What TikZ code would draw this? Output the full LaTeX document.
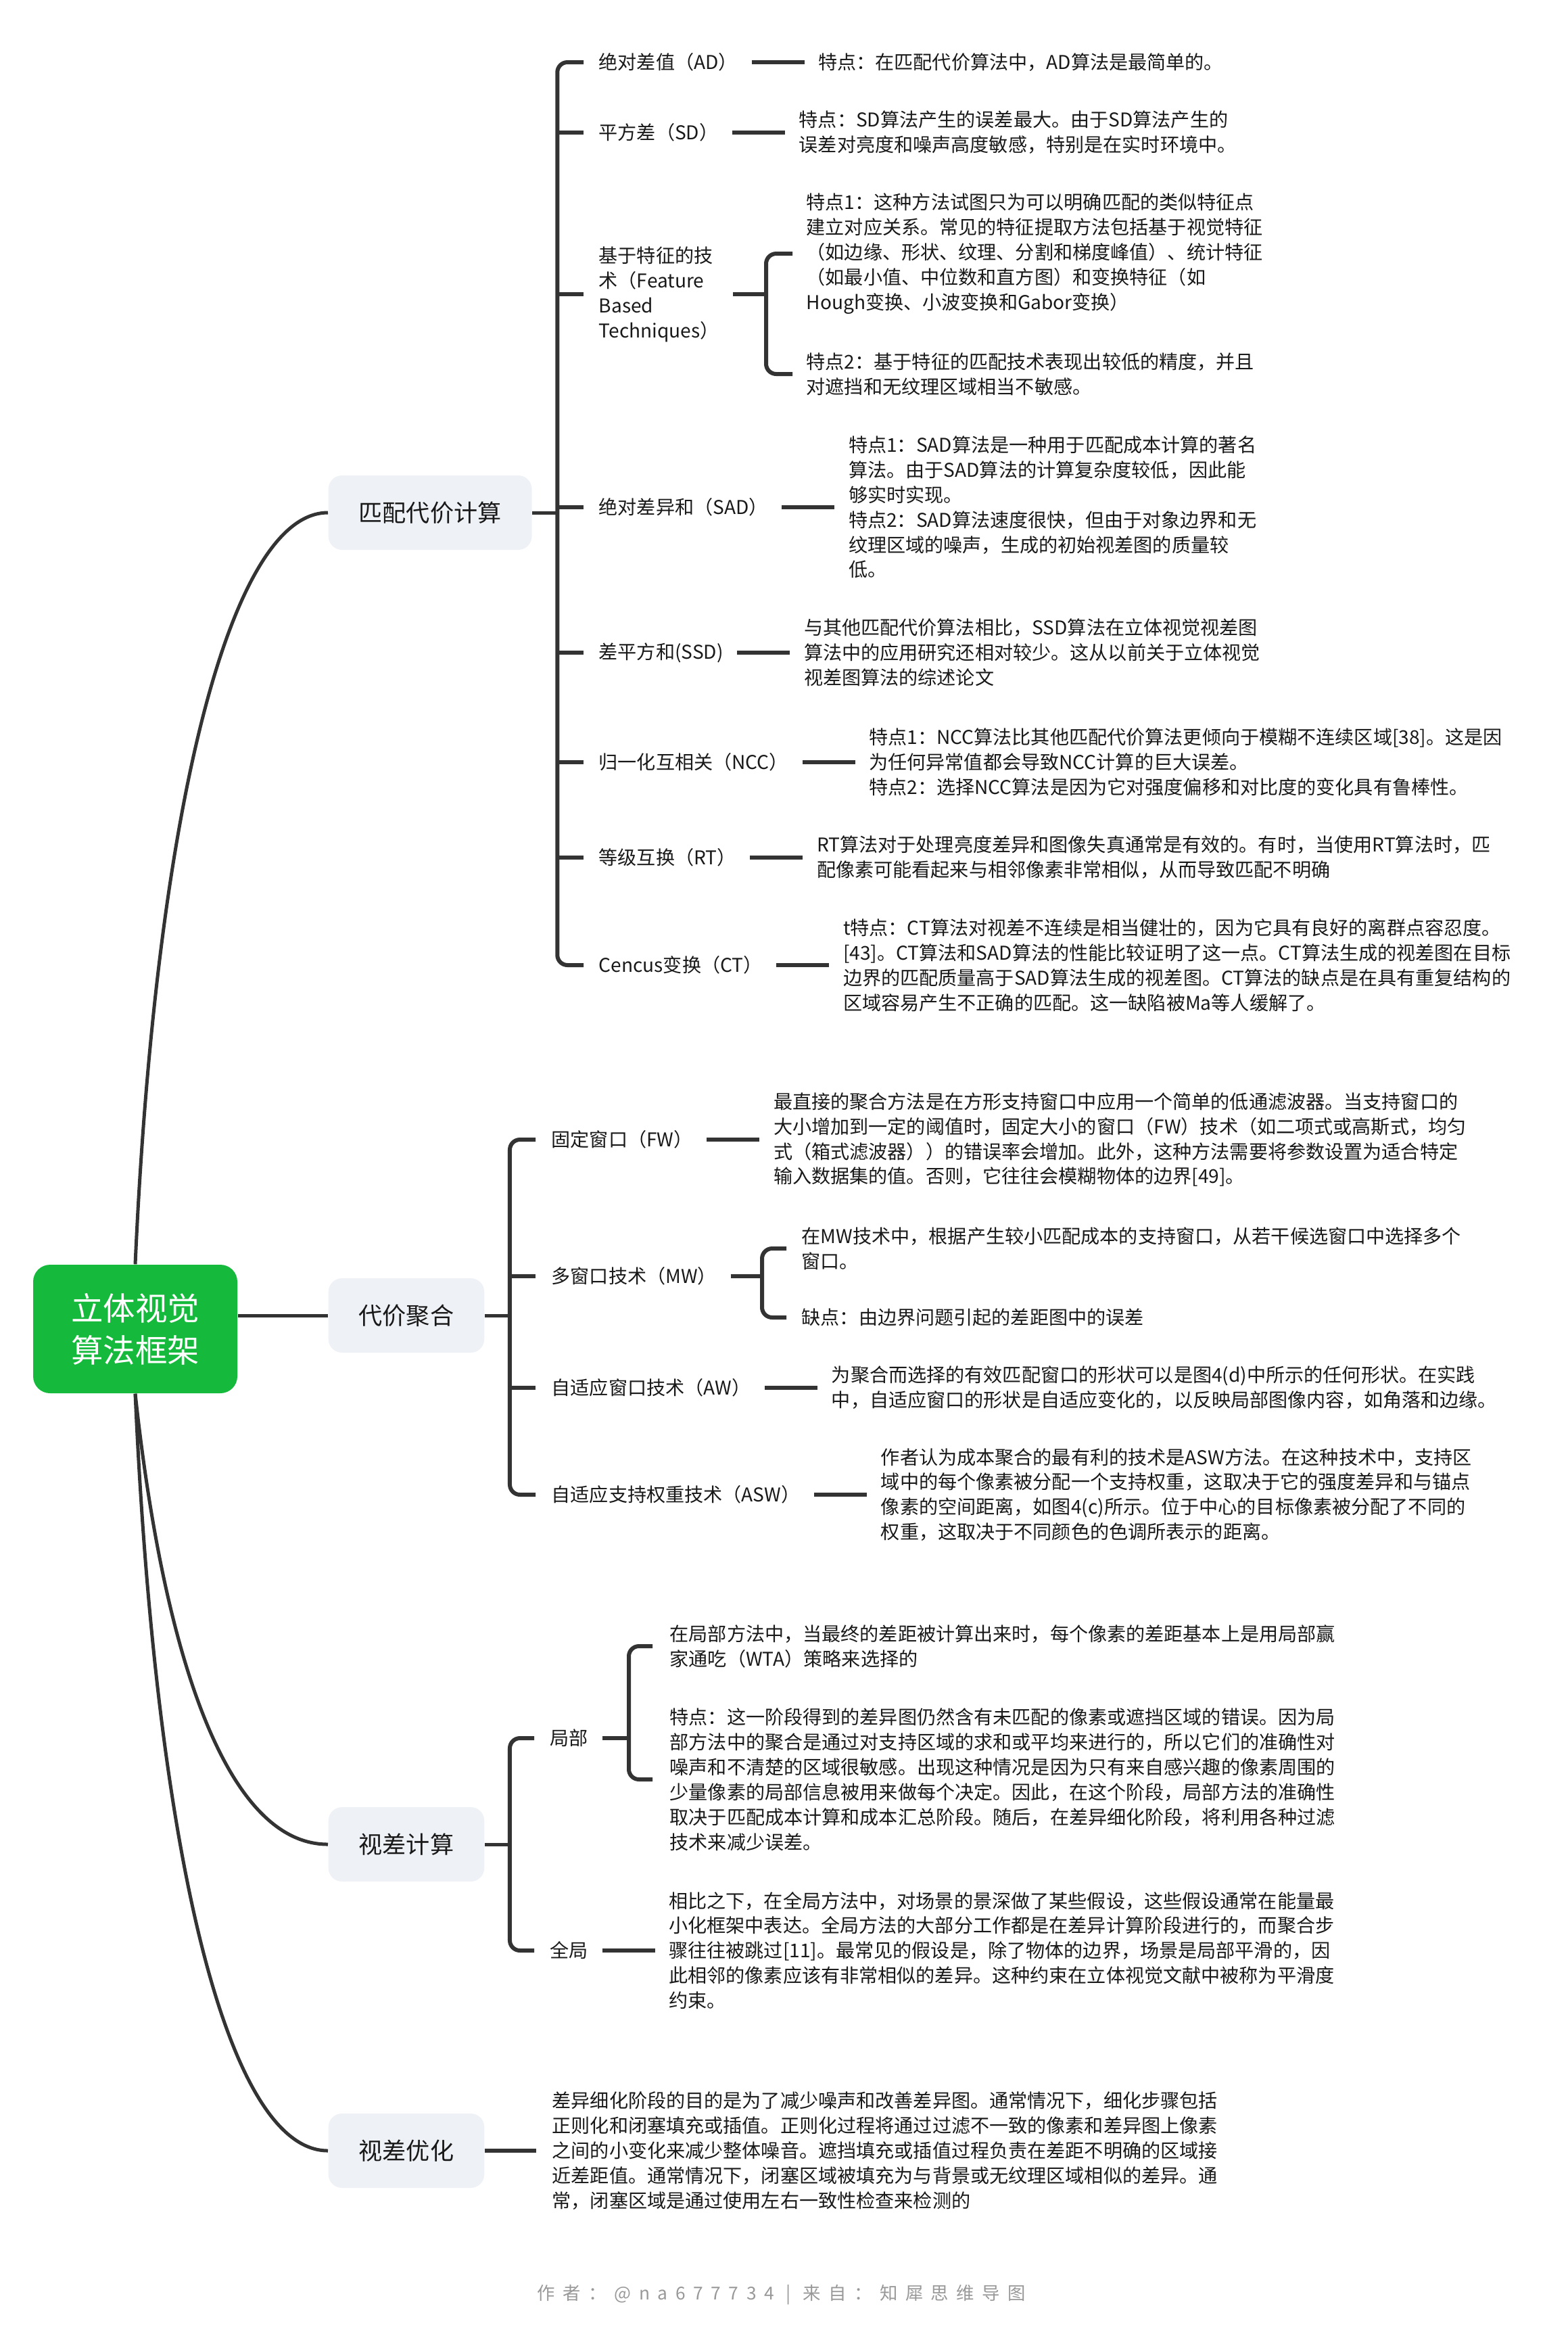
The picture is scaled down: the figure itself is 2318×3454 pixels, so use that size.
\documentclass[tikz,border=0pt]{standalone}
\usepackage{fontspec}
\setmainfont{Noto Sans CJK SC}
\newfontfamily\footfont[LetterSpace=44]{Noto Sans CJK SC}
\usetikzlibrary{positioning,calc}
\definecolor{linegray}{HTML}{333333}
\definecolor{boxgray}{HTML}{EEF1F5}
\definecolor{rootgreen}{HTML}{15BA3C}

\begin{document}
\begin{tikzpicture}[x=0.1mm, y=-0.1mm,
  rootbox/.style={fill=rootgreen, rounded corners=2.5mm, text=white,
    minimum width=30.2mm, minimum height=19mm, align=center,
    font=\fontsize{13.5pt}{17.6pt}\selectfont},
  branchbox/.style={fill=boxgray, rounded corners=2mm, inner xsep=4.5mm,
    minimum height=11mm, anchor=west, text=black!90,
    font=\fontsize{10pt}{12pt}\selectfont},
  leaf/.style={anchor=west, inner sep=0pt, align=left, text=black!90,
    font=\fontsize{8pt}{10.5pt}\selectfont},
  curve/.style={draw=linegray, line width=0.5mm},
  link/.style={draw=linegray, line width=0.5mm},
  brk/.style={draw=linegray, line width=0.6mm, rounded corners=1.5mm},
  conn/.style={draw=linegray, line width=0.6mm, shorten <=2mm, shorten >=2mm}]

  \useasboundingbox (0,0) rectangle (2318,3454);

  \node[rootbox] (root) at (200,1965) {立体视觉\\算法框架};
  \node[branchbox] (m1) at (485,758) {匹配代价计算};
  \node[branchbox] (m2) at (485,1945) {代价聚合};
  \node[branchbox] (m3) at (485,2727) {视差计算};
  \node[branchbox] (m4) at (485,3180) {视差优化};

  \draw[curve] (root.north) .. controls +(30,-670) and +(-145,0) .. (m1.west);
  \draw[curve] (root.east |- m2.west) -- (m2.west);
  \draw[curve] (root.south) .. controls +(40,370) and +(-155,0) .. (m3.west);
  \draw[curve] (root.south) .. controls +(30,676) and +(-150,0) .. (m4.west);

  % 匹配代价计算
  \node[leaf] (ad) at (885,92) {绝对差值（AD）};
  \node[leaf] (sd) at (885,196) {平方差（SD）};
  \node[leaf] (fb) at (885,435) {基于特征的技\\术（Feature\\Based\\Techniques）};
  \node[leaf] (sad) at (885,750) {绝对差异和（SAD）};
  \node[leaf] (ssd) at (885,965) {差平方和(SSD)};
  \node[leaf] (ncc) at (885,1127) {归一化互相关（NCC）};
  \node[leaf] (rt) at (885,1268) {等级互换（RT）};
  \node[leaf] (ct) at (885,1427) {Cencus变换（CT）};

  \node[leaf, right=11.8mm of ad] (adx) {特点：在匹配代价算法中，AD算法是最简单的。};
  \node[leaf, right=11.8mm of sd] (sdx) {特点：SD算法产生的误差最大。由于SD算法产生的\\误差对亮度和噪声高度敏感，特别是在实时环境中。};
  \node[leaf] (fb1) at (1192,375) {特点1：这种方法试图只为可以明确匹配的类似特征点\\建立对应关系。常见的特征提取方法包括基于视觉特征\\（如边缘、形状、纹理、分割和梯度峰值）、统计特征\\（如最小值、中位数和直方图）和变换特征（如\\Hough变换、小波变换和Gabor变换）};
  \node[leaf] (fb2) at (1192,553) {特点2：基于特征的匹配技术表现出较低的精度，并且\\对遮挡和无纹理区域相当不敏感。};
  \node[leaf, right=11.8mm of sad] (sadx) {特点1：SAD算法是一种用于匹配成本计算的著名\\算法。由于SAD算法的计算复杂度较低，因此能\\够实时实现。\\特点2：SAD算法速度很快，但由于对象边界和无\\纹理区域的噪声，生成的初始视差图的质量较\\低。};
  \node[leaf, right=11.8mm of ssd] (ssdx) {与其他匹配代价算法相比，SSD算法在立体视觉视差图\\算法中的应用研究还相对较少。这从以前关于立体视觉\\视差图算法的综述论文};
  \node[leaf, right=11.8mm of ncc] (nccx) {特点1：NCC算法比其他匹配代价算法更倾向于模糊不连续区域[38]。这是因\\为任何异常值都会导致NCC计算的巨大误差。\\特点2：选择NCC算法是因为它对强度偏移和对比度的变化具有鲁棒性。};
  \node[leaf, right=11.8mm of rt] (rtx) {RT算法对于处理亮度差异和图像失真通常是有效的。有时，当使用RT算法时，匹\\配像素可能看起来与相邻像素非常相似，从而导致匹配不明确};
  \node[leaf, right=11.8mm of ct] (ctx) {t特点：CT算法对视差不连续是相当健壮的，因为它具有良好的离群点容忍度。\\{}[43]。CT算法和SAD算法的性能比较证明了这一点。CT算法生成的视差图在目标\\边界的匹配质量高于SAD算法生成的视差图。CT算法的缺点是在具有重复结构的\\区域容易产生不正确的匹配。这一缺陷被Ma等人缓解了。};

  \coordinate[right=3.7mm of m1] (b1);
  \draw[link] (m1) -- (b1);
  \draw[brk] ([xshift=-2.2mm]ad.west) -| (b1) |- ([xshift=-2.2mm]ct.west);
  \foreach \n in {sd,fb,sad,ssd,ncc,rt}
    \draw[brk] (b1 |- \n.west) -- ([xshift=-2.2mm]\n.west);
  \foreach \a/\b in {ad/adx,sd/sdx,sad/sadx,ssd/ssdx,ncc/nccx,rt/rtx,ct/ctx}
    \draw[conn] (\a) -- (\b);
  \coordinate (fbk) at (1133,435);
  \draw[brk, shorten <=2mm] (fb) -- (fbk);
  \draw[brk] ([xshift=-2mm]fb1.west) -| (fbk) |- ([xshift=-2mm]fb2.west);

  % 代价聚合
  \node[leaf] (fw) at (815,1685) {固定窗口（FW）};
  \node[leaf] (mw) at (815,1887) {多窗口技术（MW）};
  \node[leaf] (aw) at (815,2052) {自适应窗口技术（AW）};
  \node[leaf] (asw) at (815,2210) {自适应支持权重技术（ASW）};

  \node[leaf, right=11.8mm of fw] (fwx) {最直接的聚合方法是在方形支持窗口中应用一个简单的低通滤波器。当支持窗口的\\大小增加到一定的阈值时，固定大小的窗口（FW）技术（如二项式或高斯式，均匀\\式（箱式滤波器））的错误率会增加。此外，这种方法需要将参数设置为适合特定\\输入数据集的值。否则，它往往会模糊物体的边界[49]。};
  \node[leaf] (mw1) at (1185,1846) {在MW技术中，根据产生较小匹配成本的支持窗口，从若干候选窗口中选择多个\\窗口。};
  \node[leaf] (mw2) at (1185,1948) {缺点：由边界问题引起的差距图中的误差};
  \node[leaf, right=11.8mm of aw] (awx) {为聚合而选择的有效匹配窗口的形状可以是图4(d)中所示的任何形状。在实践\\中，自适应窗口的形状是自适应变化的，以反映局部图像内容，如角落和边缘。};
  \node[leaf, right=11.8mm of asw] (aswx) {作者认为成本聚合的最有利的技术是ASW方法。在这种技术中，支持区\\域中的每个像素被分配一个支持权重，这取决于它的强度差异和与锚点\\像素的空间距离，如图4(c)所示。位于中心的目标像素被分配了不同的\\权重，这取决于不同颜色的色调所表示的距离。};

  \coordinate[right=3.7mm of m2] (b2);
  \draw[link] (m2) -- (b2);
  \draw[brk] ([xshift=-2.3mm]fw.west) -| (b2) |- ([xshift=-2.3mm]asw.west);
  \foreach \n in {mw,aw}
    \draw[brk] (b2 |- \n.west) -- ([xshift=-2.3mm]\n.west);
  \foreach \a/\b in {fw/fwx,aw/awx,asw/aswx}
    \draw[conn] (\a) -- (\b);
  \coordinate (mwk) at (1127,1887);
  \draw[brk, shorten <=2mm] (mw) -- (mwk);
  \draw[brk] ([xshift=-2.2mm]mw1.west) -| (mwk) |- ([xshift=-2.2mm]mw2.west);

  % 视差计算
  \node[leaf] (jb) at (813,2570) {局部};
  \node[leaf] (qj) at (813,2884) {全局};
  \node[leaf] (jb1) at (990,2434) {在局部方法中，当最终的差距被计算出来时，每个像素的差距基本上是用局部赢\\家通吃（WTA）策略来选择的};
  \node[leaf] (jb2) at (990,2631) {特点：这一阶段得到的差异图仍然含有未匹配的像素或遮挡区域的错误。因为局\\部方法中的聚合是通过对支持区域的求和或平均来进行的，所以它们的准确性对\\噪声和不清楚的区域很敏感。出现这种情况是因为只有来自感兴趣的像素周围的\\少量像素的局部信息被用来做每个决定。因此，在这个阶段，局部方法的准确性\\取决于匹配成本计算和成本汇总阶段。随后，在差异细化阶段，将利用各种过滤\\技术来减少误差。};
  \node[leaf, right=11.8mm of qj] (qjx) {相比之下，在全局方法中，对场景的景深做了某些假设，这些假设通常在能量最\\小化框架中表达。全局方法的大部分工作都是在差异计算阶段进行的，而聚合步\\骤往往被跳过[11]。最常见的假设是，除了物体的边界，场景是局部平滑的，因\\此相邻的像素应该有非常相似的差异。这种约束在立体视觉文献中被称为平滑度\\约束。};

  \coordinate[right=3.7mm of m3] (b3);
  \draw[link] (m3) -- (b3);
  \draw[brk] ([xshift=-2.3mm]jb.west) -| (b3) |- ([xshift=-2.3mm]qj.west);
  \draw[conn] (qj) -- (qjx);
  \coordinate (jbk) at (930,2570);
  \draw[brk, shorten <=2mm] (jb) -- (jbk);
  \draw[brk] ([xshift=-2.5mm]jb1.west) -| (jbk) |- ([xshift=-2.5mm]jb2.west);

  % 视差优化
  \node[leaf, right=9.9mm of m4] (yh) {差异细化阶段的目的是为了减少噪声和改善差异图。通常情况下，细化步骤包括\\正则化和闭塞填充或插值。正则化过程将通过过滤不一致的像素和差异图上像素\\之间的小变化来减少整体噪音。遮挡填充或插值过程负责在差距不明确的区域接\\近差距值。通常情况下，闭塞区域被填充为与背景或无纹理区域相似的差异。通\\常，闭塞区域是通过使用左右一致性检查来检测的};
  \draw[link, line width=0.6mm, shorten >=2.3mm] (m4) -- (yh);

  \node[text=black!40, font=\footfont\fontsize{7.5pt}{8.5pt}\selectfont] (foot) at (1156,3393)
    {作者：@na677734 | 来自：知犀思维导图};
\end{tikzpicture}
\end{document}
